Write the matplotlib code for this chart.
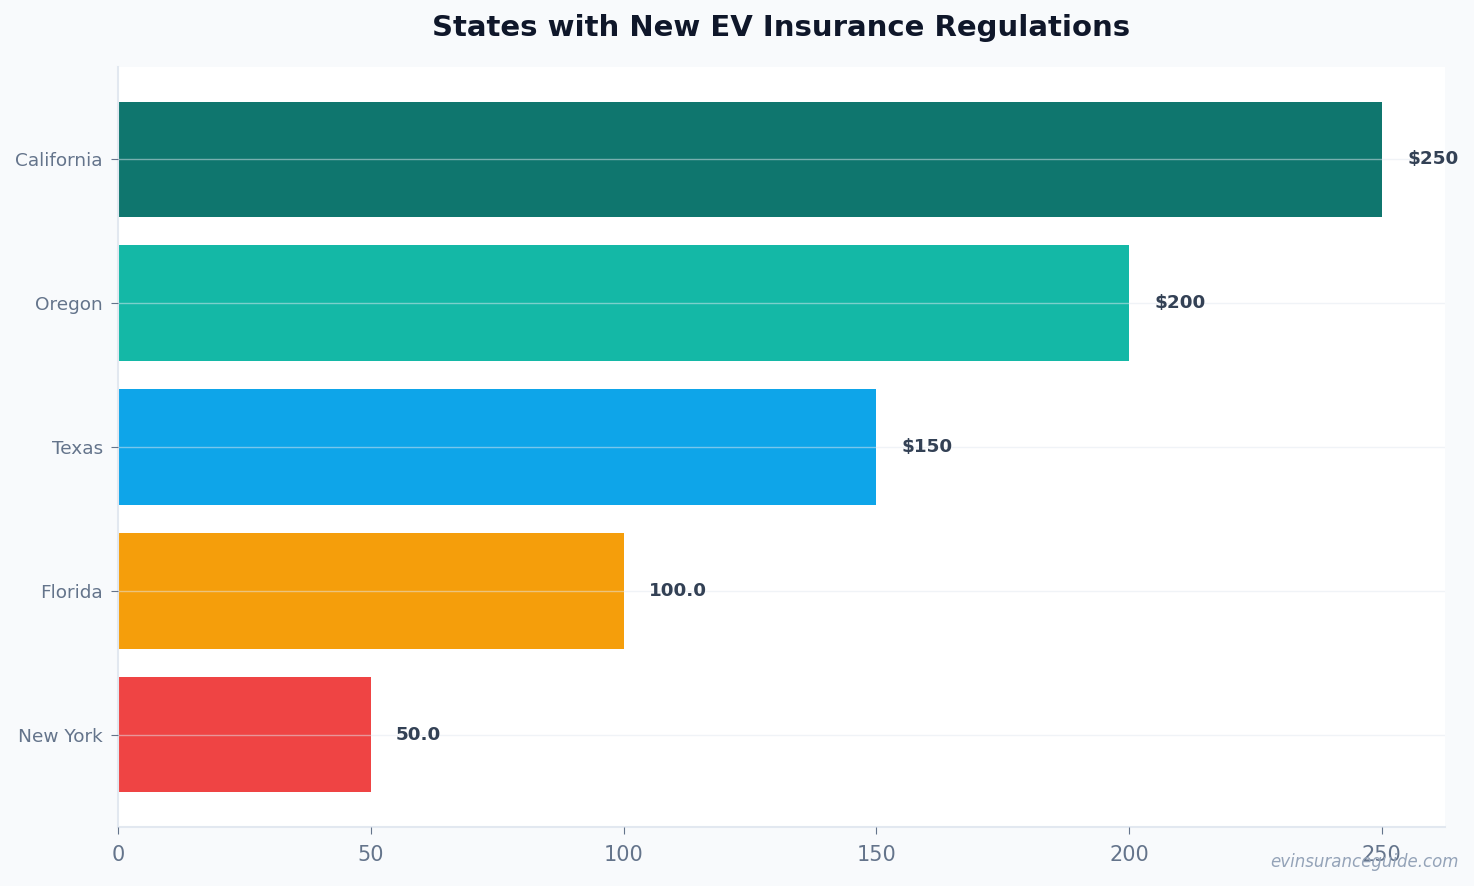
import matplotlib.pyplot as plt

states = ["California", "Oregon", "Texas", "Florida", "New York"]
values = [250, 200, 150, 100, 50]
value_labels = ["$250", "$200", "$150", "100.0", "50.0"]
colors = ["#0f766e", "#14b8a6", "#0ea5e9", "#f59e0b", "#ef4444"]
xticks = [0, 50, 100, 150, 200, 250]

fig = plt.figure(figsize=(14.74, 8.86), dpi=100, facecolor="#f8fafc")
ax = fig.add_axes([118/1474, 1-827/886, (1445-118)/1474, (827-67)/886])
ax.set_facecolor("#ffffff")

ypos = list(range(len(states)))
ax.barh(ypos, values, height=0.8, color=colors, zorder=2)
ax.set_yticks(ypos)
ax.set_yticklabels(states)
ax.invert_yaxis()
ax.set_xticks(xticks)
ax.set_xlim(0, 262.5)

for y, v, lab in zip(ypos, values, value_labels):
    ax.text(v + 5, y, lab, va="center", ha="left", fontsize=13.2,
            fontweight="bold", color="#334155", zorder=4)

ax.grid(axis="y", color="#e2e8f0", alpha=0.5, linewidth=1, zorder=3)
ax.grid(axis="x", visible=False)
ax.set_axisbelow(False)
for s in ["top", "right"]:
    ax.spines[s].set_visible(False)
for s in ["left", "bottom"]:
    ax.spines[s].set_color("#e2e8f0")
    ax.spines[s].set_linewidth(1.5)

ax.tick_params(axis="y", labelsize=13.3, labelcolor="#64748b", color="#64748b", length=5, pad=6)
ax.tick_params(axis="x", labelsize=15, labelcolor="#64748b", color="#64748b", length=5, pad=8)

ax.set_title("States with New EV Insurance Regulations", fontsize=21,
             fontweight="bold", color="#0f172a", pad=22)

fig.text(1459/1474, 1-862/886, "evinsuranceguide.com", ha="right", va="center",
         fontsize=12, style="italic", color="#94a3b8")

fig.savefig("out.png", dpi=100, facecolor=fig.get_facecolor())
